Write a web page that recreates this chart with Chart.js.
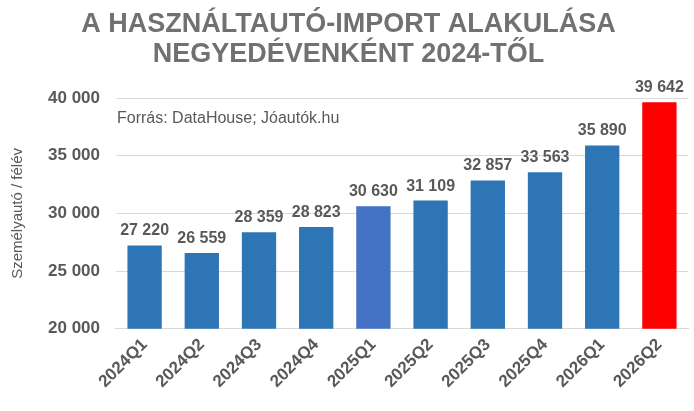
<!DOCTYPE html>
<html>
<head>
<meta charset="utf-8">
<script src="https://cdn.jsdelivr.net/npm/chart.js@4"></script>
<style>
html,body{margin:0;padding:0;background:#fff;}
#c{display:block;}
</style>
</head>
<body>
<canvas id="c" width="694" height="411"></canvas>
<script>
const categories = ['2024Q1','2024Q2','2024Q3','2024Q4','2025Q1','2025Q2','2025Q3','2025Q4','2026Q1','2026Q2'];
const values = [27220, 26559, 28359, 28823, 30630, 31109, 32857, 33563, 35890, 39642];
const barColors = ['#2E75B6','#2E75B6','#2E75B6','#2E75B6','#4472C4','#2E75B6','#2E75B6','#2E75B6','#2E75B6','#FF0000'];
const titleLines = ['A HASZNÁLTAUTÓ-IMPORT ALAKULÁSA','NEGYEDÉVENKÉNT 2024-TŐL'];
const sourceText = 'Forrás: DataHouse; Jóautók.hu';
const yAxisTitle = 'Személyautó / félév';

function fmt(v){ return String(v).replace(/\B(?=(\d{3})+(?!\d))/g, ' '); }

const labelPlugin = {
  id: 'labels',
  afterDatasetsDraw(chart){
    const ctx = chart.ctx;
    const meta = chart.getDatasetMeta(0);
    ctx.save();
    ctx.font = 'bold 16px "Liberation Sans", Arial, sans-serif';
    ctx.fillStyle = '#595959';
    ctx.textAlign = 'center';
    ctx.textBaseline = 'alphabetic';
    meta.data.forEach((bar, i) => {
      ctx.fillText(fmt(values[i]), bar.x, bar.y - 10);
    });
    ctx.font = '16px "Liberation Sans", Arial, sans-serif';
    ctx.textAlign = 'left';
    ctx.textBaseline = 'alphabetic';
    ctx.fillText(sourceText, chart.chartArea.left + 1, 123);
    ctx.restore();
  }
};

new Chart(document.getElementById('c'), {
  type: 'bar',
  data: {
    labels: categories,
    datasets: [{
      data: values,
      backgroundColor: barColors,
      barPercentage: 0.6,
      categoryPercentage: 1
    }]
  },
  options: {
    responsive: false,
    animation: false,
    layout: { padding: { left: 9, right: 6, top: 0, bottom: 13 } },
    plugins: {
      legend: { display: false },
      tooltip: { enabled: false },
      title: {
        display: true,
        text: titleLines,
        color: '#737070',
        font: { family: '"Liberation Sans", Arial, sans-serif', size: 27, weight: 'bold', lineHeight: 1.13 },
        padding: { top: 9, bottom: 28 }
      }
    },
    scales: {
      x: {
        grid: { display: false, drawTicks: false },
        border: { display: true, color: '#d9d9d9' },
        ticks: {
          color: '#595959',
          font: { family: '"Liberation Sans", Arial, sans-serif', size: 17, weight: 'bold' },
          maxRotation: 45, minRotation: 45,
          padding: 6
        }
      },
      y: {
        min: 20000, max: 40000,
        grid: { color: '#d9d9d9', drawTicks: false },
        border: { display: false },
        ticks: {
          stepSize: 5000,
          color: '#595959',
          padding: 16,
          font: { family: '"Liberation Sans", Arial, sans-serif', size: 17, weight: 'bold' },
          callback: v => fmt(v)
        },
        title: {
          display: true,
          text: yAxisTitle,
          color: '#595959',
          font: { family: '"Liberation Sans", Arial, sans-serif', size: 15 },
          padding: { top: 0, bottom: 5 }
        }
      }
    }
  },
  plugins: [labelPlugin]
});
</script>
</body>
</html>
